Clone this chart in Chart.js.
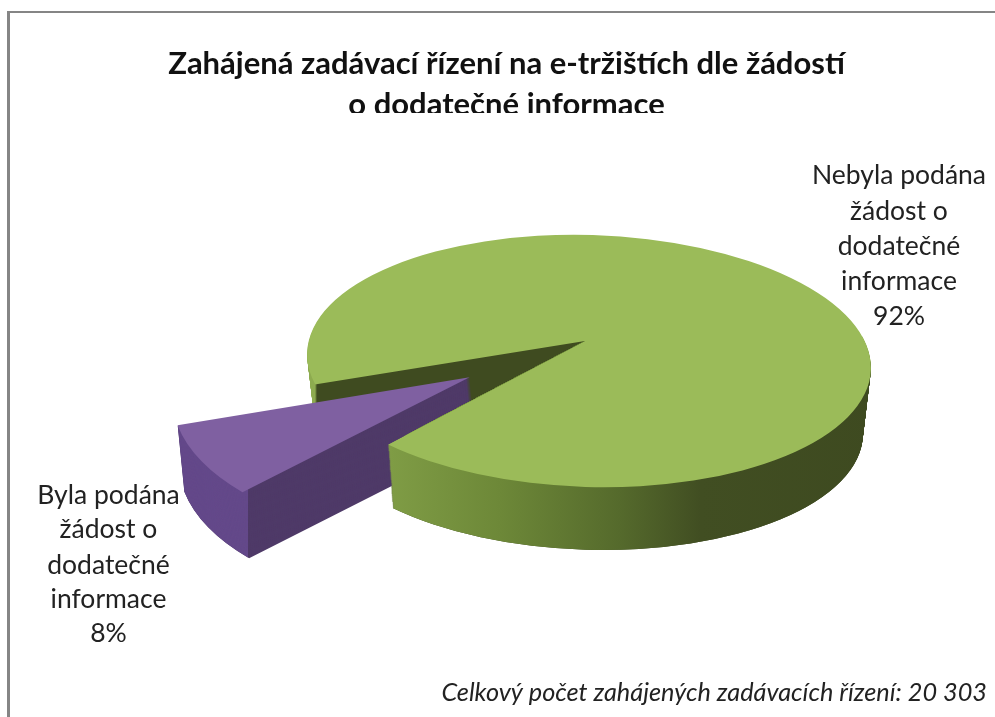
<!DOCTYPE html>
<html lang="cs">
<head>
<meta charset="utf-8">
<title>Zahájená zadávací řízení</title>
<script src="https://cdn.jsdelivr.net/npm/chart.js@4/dist/chart.umd.js"></script>
<style>
html,body{margin:0;padding:0;background:#fff;overflow:hidden}
#wrap{position:relative;width:995px;height:717px}
#frame{position:absolute;left:7px;top:11px;right:0;bottom:0;border-left:3px solid #858585;border-top:2px solid #858585}
canvas{position:absolute;left:0;top:0;filter:blur(0.6px)}
</style>
</head>
<body>
<div id="wrap"><div id="frame"></div><canvas id="c" width="995" height="717"></canvas></div>
<script>
const categories = ['Nebyla podána žádost o dodatečné informace', 'Byla podána žádost o dodatečné informace'];
const values = [92, 8];
const labelLines = [
  ['Nebyla podána', 'žádost o', 'dodatečné', 'informace', '92%'],
  ['Byla podána', 'žádost o', 'dodatečné', 'informace', '8%']
];
const titleLines = ['Zahájená zadávací řízení na e-tržištích dle žádostí', 'o dodatečné informace'];
const footerText = 'Celkový počet zahájených zadávacích řízení: 20 303';

const view = {ax:585, ay:341, sy:0.49, k:1.35, cx:589, cy:361, rx:282, ry:126, tilt:0.03, depth:66, shrink:0.12, explode:137};
const labelStyle = [{x:899, y:[175,211,246,281,316]}, {x:108.5, y:[495,529,565,599,633]}];

function paint(ctx, el, color){
  const o = el.options;
  el.options = Object.assign({}, o, {backgroundColor: color, borderWidth: 0});
  el.draw(ctx);
  el.options = o;
}
function greenLayer(ctx, el, d, color, clip){
  const v = view;
  ctx.save();
  if (clip) clip(ctx);
  ctx.beginPath();
  ctx.ellipse(v.cx, v.cy + d, v.rx - d*v.shrink, v.ry - d*0.05, v.tilt, 0, Math.PI*2);
  ctx.clip();
  ctx.translate(v.ax, v.ay + d);
  ctx.scale(v.k, v.k*v.sy);
  ctx.translate(-el.x, -el.y);
  paint(ctx, el, color);
  ctx.restore();
}
function wallGradient(ctx, el, stops){
  const v = view, toLocal = X => el.x + (X - v.ax)/v.k;
  const x0 = stops[0][0], x1 = stops[stops.length-1][0];
  const g = ctx.createLinearGradient(toLocal(x0), 0, toLocal(x1), 0);
  stops.forEach(s => g.addColorStop((s[0]-x0)/(x1-x0), s[1]));
  return g;
}
function purpleLayer(ctx, el, px, py, d, color, clip){
  ctx.save();
  if (clip) clip(ctx);
  ctx.translate(px + d*0.1, py + d);
  ctx.transform(1.05, 0.006, -0.122, 0.563, 0, 0);
  ctx.translate(-el.x, -el.y);
  paint(ctx, el, color);
  ctx.restore();
}
const pie3d = {
  id:'pie3d',
  beforeDatasetsDraw(chart){
    const ctx = chart.ctx, v = view;
    const arcs = chart.getDatasetMeta(0).data, green = arcs[0], purple = arcs[1];
    const mid = (purple.startAngle + purple.endAngle)/2;
    const px = v.ax + Math.cos(mid)*v.explode, py = v.ay + Math.sin(mid)*v.explode*v.sy;
    const lower = purple.startAngle;
    const frontClip = c => {
      const far = 1500;
      c.beginPath();
      c.moveTo(v.ax, v.ay);
      const fx = v.ax + Math.cos(lower)*far, fy = v.ay + Math.sin(lower)*far*v.sy;
      c.lineTo(fx, fy); c.lineTo(fx, 3000); c.lineTo(3000, 3000); c.lineTo(3000, v.ay - 5); c.lineTo(v.ax, v.ay - 5);
      c.closePath(); c.clip();
    };
    const backWall = wallGradient(ctx, green, [[300,'#8dab4f'],[315,'#8dab4f'],[317,'#3f4b20'],[900,'#3f4b20']]);
    const frontWall = wallGradient(ctx, green, [[390,'#7f9c45'],[500,'#6d8838'],[620,'#556a2c'],[700,'#414e22'],[880,'#3e4a20']]);
    for (let d = v.depth; d > 0; d--) greenLayer(ctx, green, d, backWall);
    greenLayer(ctx, green, 0, green.options.backgroundColor);
    for (let d = v.depth; d > 0; d--) purpleLayer(ctx, purple, px, py, d, '#4f3a68');
    const outerBand = c => { c.beginPath(); c.rect(0, 0, 248, 717); c.clip(); };
    for (let d = v.depth; d > 0; d--) purpleLayer(ctx, purple, px, py, d, '#64498a', outerBand);
    purpleLayer(ctx, purple, px, py, 0, purple.options.backgroundColor);
    for (let d = v.depth; d > 0; d--) greenLayer(ctx, green, d, frontWall, frontClip);
    greenLayer(ctx, green, 0, green.options.backgroundColor, frontClip);
    return false;
  },
  afterDraw(chart){
    const ctx = chart.ctx;
    ctx.save();
    ctx.fillStyle = '#fff';
    ctx.fillRect(200, 113, 600, 16);
    ctx.font = '26.5px Lato';
    ctx.fillStyle = '#222';
    ctx.textAlign = 'center';
    ctx.textBaseline = 'middle';
    labelLines.forEach((lines, i) => lines.forEach((t, j) => ctx.fillText(t, labelStyle[i].x, labelStyle[i].y[j])));
    ctx.restore();
  }
};
new Chart(document.getElementById('c'), {
  type:'pie',
  data:{labels:categories, datasets:[{data:values, backgroundColor:['#9bbb59','#7f60a1'], borderWidth:0}]},
  options:{
    responsive:false, animation:false, rotation:251.8, radius:282,
    layout:{padding:{left:26, right:8, top:44, bottom:9}},
    plugins:{
      legend:{display:false}, tooltip:{enabled:false},
      title:{display:true, text:titleLines, color:'#111', font:{family:'Lato', size:31, weight:'bold', lineHeight:1.32}, padding:0},
      subtitle:{display:true, text:footerText, position:'bottom', align:'end', color:'#222', font:{family:'Lato', size:25.3, style:'italic'}, padding:0}
    }
  },
  plugins:[pie3d]
});
</script>
</body>
</html>
